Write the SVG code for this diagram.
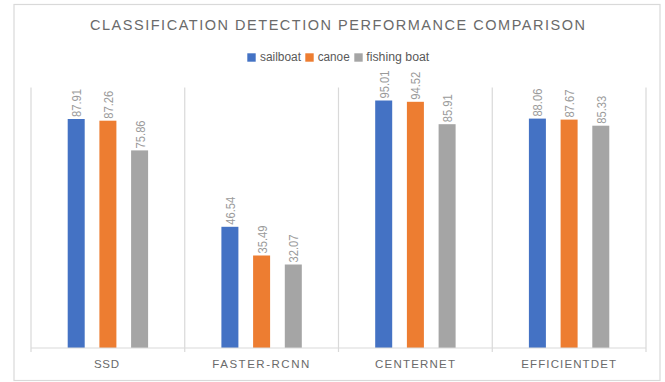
<svg xmlns="http://www.w3.org/2000/svg" width="665" height="382" viewBox="0 0 665 382">
<style>
.frame{fill:#fff;stroke:#d9d9d9;stroke-width:1.2}
.grid{stroke:#d9d9d9;stroke-width:1.2;fill:none}
.title{font-family:"Liberation Sans",Arial,sans-serif;font-size:14.5px;fill:#6a6a6a}
.leg{font-family:"Liberation Sans",Arial,sans-serif;font-size:12px;fill:#595959}
.cat{font-family:"Liberation Sans",Arial,sans-serif;font-size:11.5px;fill:#6a6a6a}
.val{font-family:"Liberation Sans",Arial,sans-serif;font-size:13.5px;fill:#9a9a9a}
.s1{fill:#4472C4}.s2{fill:#ED7D31}.s3{fill:#A5A5A5}
</style>
<rect class="frame" x="14" y="4.5" width="646" height="376"/>
<text class="title" x="90" y="30" textLength="495" lengthAdjust="spacing">CLASSIFICATION DETECTION PERFORMANCE COMPARISON</text>
<g id="legend">
<rect class="s1" x="247.3" y="53.3" width="8.4" height="8.4"/>
<text class="leg" x="260" y="61" textLength="41" lengthAdjust="spacingAndGlyphs">sailboat</text>
<rect class="s2" x="305.3" y="53.3" width="8.4" height="8.4"/>
<text class="leg" x="317.7" y="61" textLength="32" lengthAdjust="spacingAndGlyphs">canoe</text>
<rect class="s3" x="354.3" y="53.3" width="8.4" height="8.4"/>
<text class="leg" x="366.3" y="61" textLength="63" lengthAdjust="spacingAndGlyphs">fishing boat</text>
</g>
<g id="axes">
<line class="grid" x1="31" y1="87.5" x2="31" y2="352"/>
<line class="grid" x1="184.75" y1="87.5" x2="184.75" y2="352"/>
<line class="grid" x1="338.5" y1="87.5" x2="338.5" y2="352"/>
<line class="grid" x1="492.25" y1="87.5" x2="492.25" y2="352"/>
<line class="grid" x1="646" y1="87.5" x2="646" y2="352"/>
</g>
<g id="ssd">
<rect class="s1" x="67.7" y="119.0" width="17" height="229.0"/>
<rect class="s2" x="99.4" y="120.7" width="17" height="227.3"/>
<rect class="s3" x="131.1" y="150.4" width="17" height="197.6"/>
<text class="val" transform="translate(81.2,117) rotate(-90)" textLength="28" lengthAdjust="spacingAndGlyphs">87.91</text>
<text class="val" transform="translate(112.9,118.7) rotate(-90)" textLength="28" lengthAdjust="spacingAndGlyphs">87.26</text>
<text class="val" transform="translate(144.6,148.4) rotate(-90)" textLength="28" lengthAdjust="spacingAndGlyphs">75.86</text>
<text class="cat" x="94" y="368" textLength="25" lengthAdjust="spacing">SSD</text>
</g>
<g id="faster-rcnn">
<rect class="s1" x="221.4" y="226.8" width="17" height="121.2"/>
<rect class="s2" x="253.1" y="255.5" width="17" height="92.5"/>
<rect class="s3" x="284.8" y="264.5" width="17" height="83.5"/>
<text class="val" transform="translate(234.9,224.8) rotate(-90)" textLength="28" lengthAdjust="spacingAndGlyphs">46.54</text>
<text class="val" transform="translate(266.6,253.5) rotate(-90)" textLength="28" lengthAdjust="spacingAndGlyphs">35.49</text>
<text class="val" transform="translate(298.3,262.5) rotate(-90)" textLength="28" lengthAdjust="spacingAndGlyphs">32.07</text>
<text class="cat" x="212.3" y="368" textLength="97" lengthAdjust="spacing">FASTER-RCNN</text>
</g>
<g id="centernet">
<rect class="s1" x="375.2" y="100.5" width="17" height="247.5"/>
<rect class="s2" x="406.9" y="101.8" width="17" height="246.2"/>
<rect class="s3" x="438.6" y="124.2" width="17" height="223.8"/>
<text class="val" transform="translate(388.7,98.5) rotate(-90)" textLength="28" lengthAdjust="spacingAndGlyphs">95.01</text>
<text class="val" transform="translate(420.4,99.8) rotate(-90)" textLength="28" lengthAdjust="spacingAndGlyphs">94.52</text>
<text class="val" transform="translate(452.1,122.2) rotate(-90)" textLength="28" lengthAdjust="spacingAndGlyphs">85.91</text>
<text class="cat" x="375" y="368" textLength="80" lengthAdjust="spacing">CENTERNET</text>
</g>
<g id="efficientdet">
<rect class="s1" x="528.9" y="118.6" width="17" height="229.4"/>
<rect class="s2" x="560.6" y="119.6" width="17" height="228.4"/>
<rect class="s3" x="592.3" y="125.7" width="17" height="222.3"/>
<text class="val" transform="translate(542.4,116.6) rotate(-90)" textLength="28" lengthAdjust="spacingAndGlyphs">88.06</text>
<text class="val" transform="translate(574.1,117.6) rotate(-90)" textLength="28" lengthAdjust="spacingAndGlyphs">87.67</text>
<text class="val" transform="translate(605.8,123.7) rotate(-90)" textLength="28" lengthAdjust="spacingAndGlyphs">85.33</text>
<text class="cat" x="521.3" y="368" textLength="94.7" lengthAdjust="spacing">EFFICIENTDET</text>
</g>
<g id="connectors">
<line class="grid" x1="31" y1="348" x2="646" y2="348"/>
</g>
</svg>
